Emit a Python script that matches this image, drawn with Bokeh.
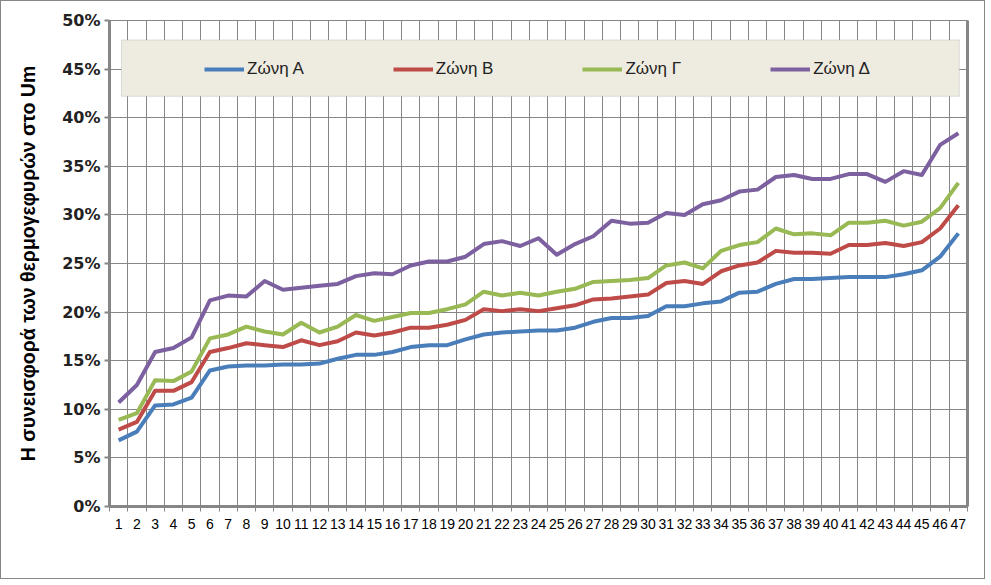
from bokeh.plotting import figure
from bokeh.models import Range1d, FixedTicker, NumeralTickFormatter, BoxAnnotation, LinearAxis, Legend
from bokeh.embed import file_html
from bokeh.resources import INLINE

categories = list(range(1, 48))
zone_a = [6.8, 7.7, 10.4, 10.5, 11.2, 14.0, 14.4, 14.5, 14.5, 14.6, 14.6, 14.7, 15.2, 15.6, 15.6, 15.9,
          16.4, 16.6, 16.6, 17.2, 17.7, 17.9, 18.0, 18.1, 18.1, 18.4, 19.0, 19.4, 19.4, 19.6, 20.6, 20.6,
          20.9, 21.1, 22.0, 22.1, 22.9, 23.4, 23.4, 23.5, 23.6, 23.6, 23.6, 23.9, 24.3, 25.7, 28.1]
zone_b = [7.9, 8.7, 11.9, 11.9, 12.8, 15.9, 16.3, 16.8, 16.6, 16.4, 17.1, 16.6, 17.0, 17.9, 17.6, 17.9,
          18.4, 18.4, 18.7, 19.2, 20.3, 20.1, 20.3, 20.1, 20.4, 20.7, 21.3, 21.4, 21.6, 21.8, 23.0, 23.2,
          22.9, 24.2, 24.8, 25.1, 26.3, 26.1, 26.1, 26.0, 26.9, 26.9, 27.1, 26.8, 27.2, 28.6, 31.0]
zone_c = [8.9, 9.6, 13.0, 12.9, 13.9, 17.3, 17.7, 18.5, 18.0, 17.7, 18.9, 17.9, 18.5, 19.7, 19.1, 19.5,
          19.9, 19.9, 20.3, 20.8, 22.1, 21.7, 22.0, 21.7, 22.1, 22.4, 23.1, 23.2, 23.3, 23.5, 24.8, 25.1,
          24.5, 26.3, 26.9, 27.2, 28.6, 28.0, 28.1, 27.9, 29.2, 29.2, 29.4, 28.9, 29.3, 30.7, 33.3]
zone_d = [10.7, 12.5, 15.9, 16.3, 17.4, 21.2, 21.7, 21.6, 23.2, 22.3, 22.5, 22.7, 22.9, 23.7, 24.0, 23.9,
          24.8, 25.2, 25.2, 25.7, 27.0, 27.3, 26.8, 27.6, 25.9, 27.0, 27.8, 29.4, 29.1, 29.2, 30.2, 30.0,
          31.1, 31.5, 32.4, 32.6, 33.9, 34.1, 33.7, 33.7, 34.2, 34.2, 33.4, 34.5, 34.1, 37.2, 38.4]
series_names = ["Ζώνη Α", "Ζώνη Β", "Ζώνη Γ", "Ζώνη Δ"]
series_colors = ["#4A7EBB", "#BE4B48", "#98B954", "#7D60A0"]
y_ticks = [0, 5, 10, 15, 20, 25, 30, 35, 40, 45, 50]
y_title = "Η συνεισφορά των θερμογεφυρών στο Um"

GRID = "#868686"

p = figure(width=983, height=577, output_backend="svg", toolbar_location=None,
           x_range=Range1d(0.5, 47.5), y_range=Range1d(0, 0.5),
           frame_width=858, frame_height=486,
           min_border_left=108, min_border_right=17, min_border_top=19, min_border_bottom=72)
p.background_fill_color = "white"
p.border_fill_color = "white"
p.outline_line_color = GRID
p.styles = {"border": "1px solid #868686"}

# legend background box
p.add_layout(BoxAnnotation(left=1.157, right=47.05, bottom=0.422, top=0.480,
                           fill_color="#EEECE1", fill_alpha=1.0,
                           line_color="#9C9C9C", line_width=1, level="underlay"))

renderers = []
for name, vals, col in zip(series_names, [zone_a, zone_b, zone_c, zone_d], series_colors):
    r = p.line(categories, [v / 100 for v in vals], line_color=col, line_width=4, line_join="round")
    renderers.append((name, [r]))

legend = Legend(items=renderers, orientation="horizontal", location=(95, 427),
                padding=0, margin=0, spacing=89, glyph_width=40, glyph_height=20,
                label_height=20, label_standoff=3,
                label_text_font="Liberation Sans", label_text_font_size="17px",
                label_text_color="#222222",
                background_fill_alpha=0, border_line_color=None)
p.add_layout(legend)

# x axis
xa = p.xaxis[0]
xa.ticker = FixedTicker(ticks=categories, minor_ticks=[c - 0.5 for c in categories] + [47.5])
xa.major_tick_line_color = None
xa.minor_tick_in = 0
xa.minor_tick_out = 5
xa.minor_tick_line_color = GRID
xa.axis_line_color = GRID
xa.axis_line_width = 3
xa.major_label_text_font = "Liberation Sans"
xa.major_label_text_font_size = "14px"
xa.major_label_text_color = "black"
xa.major_label_standoff = 6
p.xgrid.grid_line_color = None
p.xgrid.minor_grid_line_color = GRID
p.xgrid.minor_grid_line_width = 1

# y axis
ya = p.yaxis[0]
ya.ticker = FixedTicker(ticks=[t / 100 for t in y_ticks])
ya.formatter = NumeralTickFormatter(format="0%")
ya.minor_tick_line_color = None
ya.major_tick_in = 0
ya.major_tick_out = 5
ya.major_tick_line_color = GRID
ya.major_tick_line_width = 2
ya.axis_line_color = GRID
ya.axis_line_width = 3
ya.major_label_text_font = "DejaVu Sans"
ya.major_label_text_font_style = "bold"
ya.major_label_text_font_size = "16px"
ya.major_label_text_color = "#222222"
ya.major_label_standoff = 4
ya.axis_label = y_title
ya.axis_label_text_font = "Liberation Sans"
ya.axis_label_text_font_style = "bold"
ya.axis_label_text_font_size = "19.5px"
ya.axis_label_text_color = "black"
ya.axis_label_standoff = 20
p.ygrid.grid_line_color = GRID
p.ygrid.grid_line_width = 1

# right border axis
ra = LinearAxis(ticker=FixedTicker(ticks=[]), major_tick_line_color=None, minor_tick_line_color=None,
                axis_line_color=GRID, axis_line_width=3)
p.add_layout(ra, "right")

open("out.html", "w").write(file_html(p, INLINE))
